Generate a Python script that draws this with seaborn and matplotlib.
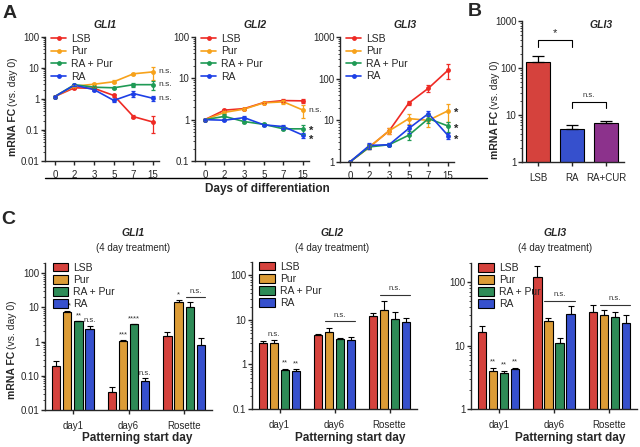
import numpy as np
import pandas as pd
import matplotlib
matplotlib.use('Agg')
import matplotlib.pyplot as plt
from matplotlib.lines import Line2D
import seaborn as sns

# ---- data ----
conditions = ['LSB', 'Pur', 'RA + Pur', 'RA']
colors = ['#ee2a24', '#f7a21b', '#1f9a55', '#1d3fe6']

days = ['0', '2', '3', '5', '7', '15']

# panel A: time course (mean, SEM), rows follow `conditions`
gli1_time_mean = [[1.2, 2.3, 2.2, 1.3, 0.27, 0.18],
                  [1.2, 2.6, 3.0, 3.6, 6.5, 7.5],
                  [1.2, 2.9, 2.4, 2.3, 2.9, 2.9],
                  [1.2, 2.8, 2.0, 0.9, 1.5, 1.05]]
gli1_time_sem = [[0.05, 0.2, 0.15, 0.1, 0.03, 0.1],
                 [0.05, 0.2, 0.3, 0.4, 0.5, 3.5],
                 [0.05, 0.2, 0.2, 0.15, 0.4, 1.0],
                 [0.05, 0.2, 0.15, 0.12, 0.3, 0.2]]
gli2_time_mean = [[1.0, 1.7, 1.85, 2.6, 2.9, 2.85],
                  [1.0, 1.5, 1.8, 2.55, 2.7, 1.7],
                  [1.0, 1.2, 0.9, 0.77, 0.6, 0.6],
                  [1.0, 0.97, 1.12, 0.75, 0.68, 0.42]]
gli2_time_sem = [[0.02, 0.1, 0.1, 0.1, 0.2, 0.3],
                 [0.02, 0.1, 0.1, 0.1, 0.3, 0.6],
                 [0.02, 0.15, 0.05, 0.05, 0.05, 0.15],
                 [0.02, 0.05, 0.08, 0.05, 0.08, 0.06]]
gli3_time_mean = [[1.0, 2.3, 5.6, 26, 59, 160],
                  [1.0, 2.3, 5.6, 11, 10, 17],
                  [1.0, 2.3, 2.6, 4.4, 11, 7.3],
                  [1.0, 2.5, 2.6, 6.4, 14.5, 4.3]]
gli3_time_sem = [[0.02, 0.3, 0.8, 2.5, 12, 60],
                 [0.02, 0.3, 0.8, 3, 3, 8],
                 [0.02, 0.3, 0.2, 1.0, 2.5, 2],
                 [0.02, 0.4, 0.2, 1.5, 2, 0.8]]
gli1_time_marks = [('n.s.', 7.5), ('n.s.', 2.9), ('n.s.', 1.05)]
gli2_time_marks = [('n.s.', 1.7), ('*', 0.64), ('*', 0.39)]
gli3_time_marks = [('*', 18), ('*', 7.2), ('*', 4.1)]

# panel B
b_conditions = ['LSB', 'RA', 'RA+CUR']
b_colors = ['#ee2a24', '#1d3fe6', '#9b239b']
b_mean = [135, 5.1, 6.7]
b_sem = [45, 1.1, 0.9]

# panel C: 4 day treatment, rows follow `conditions`, columns follow `start_days`
start_days = ['day1', 'day6', 'Rosette']
gli1_bar_mean = [[0.2, 0.034, 1.5], [7.2, 1.05, 14], [3.9, 3.2, 10.5], [2.3, 0.072, 0.82]]
gli1_bar_sem = [[0.07, 0.014, 0.4], [0.9, 0.1, 3], [0.2, 0.1, 3.5], [0.6, 0.013, 0.45]]
gli1_bar_sig = [[None, None, None], ['***', '***', '*'], ['**', '****', None], ['n.s.', 'n.s.', None]]
gli1_bar_lines = [('Rosette', 20, 'RA + Pur', 'RA')]

gli2_bar_mean = [[3.0, 4.6, 12.5], [3.0, 5.3, 17], [0.76, 3.8, 10.5], [0.72, 3.6, 9.0]]
gli2_bar_sem = [[0.4, 0.3, 2], [0.5, 1.2, 9], [0.05, 0.1, 4.5], [0.06, 0.6, 2]]
gli2_bar_sig = [[None, None, None], ['n.s.', None, None], ['**', None, None], ['**', None, None]]
gli2_bar_lines = [('day6', 9.5, 'Pur', 'RA'), ('Rosette', 37, 'Pur', 'RA')]

gli3_bar_mean = [[16.5, 120, 34], [3.9, 24, 30], [3.7, 11, 28], [4.3, 31, 23]]
gli3_bar_sem = [[4, 60, 9], [0.5, 3, 6], [0.3, 2, 6], [0.2, 11, 7]]
gli3_bar_sig = [[None, None, None], ['**', None, None], ['**', None, None], ['**', None, None]]
gli3_bar_lines = [('day6', 50, 'Pur', 'RA'), ('Rosette', 43, 'Pur', 'RA')]

W, H = 640, 447

sns.set_style('ticks')
plt.rcParams['font.family'] = ['Liberation Sans', 'DejaVu Sans']
plt.rcParams['axes.linewidth'] = 1.0
plt.rcParams['xtick.major.width'] = 1.0
plt.rcParams['ytick.major.width'] = 1.0
plt.rcParams['xtick.major.size'] = 3
plt.rcParams['ytick.major.size'] = 3
plt.rcParams['ytick.minor.size'] = 1.5
plt.rcParams['ytick.minor.width'] = 0.6
plt.rcParams['xtick.labelsize'] = 7
plt.rcParams['ytick.labelsize'] = 7

fig = plt.figure(figsize=(W / 100, H / 100), dpi=100)


def px(x, y):
    return x / W, 1 - y / H


def add_axes(l, t, r, b):
    return fig.add_axes([l / W, 1 - b / H, (r - l) / W, (b - t) / H])


def fc_label(x, y_split):
    fx, fy = px(x, y_split)
    fig.text(fx, fy, 'mRNA FC', rotation=90, fontweight='bold', fontsize=7.5,
             ha='center', va='top')
    fig.text(fx, fy + 0.004, '(vs. day 0)', rotation=90, fontsize=7.5,
             ha='center', va='bottom')


def log_axis(ax, ticks, labels, lims):
    ax.set_yscale('log')
    ax.set_ylim(*lims)
    ax.set_yticks(ticks)
    ax.set_yticklabels(labels)
    sns.despine(ax=ax)
    ax.tick_params(axis='y', pad=1)


def line_panel(ax, means, sems, marks, ticks, labels, lims):
    df = pd.DataFrame([(days[j], conditions[i], means[i][j])
                       for i in range(len(conditions)) for j in range(len(days))],
                      columns=['day', 'cond', 'fc'])
    sns.lineplot(data=df, x='day', y='fc', hue='cond', palette=colors, sort=False,
                 marker='o', markersize=3.5, markeredgewidth=0, linewidth=1.2,
                 errorbar=None, ax=ax)
    for i, c in enumerate(colors):
        ax.errorbar(days, means[i], yerr=sems[i], fmt='none', ecolor=c,
                    elinewidth=0.9, capsize=1.5, capthick=0.9)
    log_axis(ax, ticks, labels, lims)
    ax.set_xlim(-0.5, 5.3)
    ax.set_xlabel('')
    ax.set_ylabel('')
    for s, y in marks:
        if s == 'n.s.':
            ax.text(5.28, y, s, fontsize=6, va='center', ha='left', color='#333333',
                    clip_on=False)
        else:
            # asterisk glyph sits high in the line box, nudge it down a little
            ax.text(5.28, y * 0.85, s, fontsize=8, va='center', ha='left',
                    fontweight='bold', clip_on=False)
    sns.move_legend(ax, 'upper left', bbox_to_anchor=(0.02, 1.06), frameon=False,
                    title=None, fontsize=7.5, handlelength=1.4, labelspacing=0.25,
                    handletextpad=0.5, borderaxespad=0)


def bar_panel(ax, means, sems, sig, ns_lines, ticks, labels, lims):
    df = pd.DataFrame([(start_days[j], conditions[i], means[i][j])
                       for i in range(len(conditions)) for j in range(len(start_days))],
                      columns=['start', 'cond', 'fc'])
    sns.barplot(data=df, x='start', y='fc', hue='cond', palette=colors, width=0.8,
                gap=0.25, edgecolor='black', linewidth=0.8, errorbar=None, ax=ax)
    bars = list(ax.containers)
    for i, cont in enumerate(bars):
        xs = [b.get_x() + b.get_width() / 2 for b in cont]
        hs = [b.get_height() for b in cont]
        ax.errorbar(xs, hs, yerr=[np.zeros(len(hs)), sems[i]], fmt='none',
                    ecolor='black', elinewidth=0.8, capsize=2, capthick=0.8)
        for j, s in enumerate(sig[i]):
            if s:
                ax.text(xs[j], (hs[j] + sems[i][j]) * 1.1, s, ha='center',
                        va='bottom', fontsize=5.5, color='#333333')
    for day, y, first, last in ns_lines:
        j = start_days.index(day)
        b0 = bars[conditions.index(first)][j]
        b1 = bars[conditions.index(last)][j]
        x0, x1 = b0.get_x(), b1.get_x() + b1.get_width()
        ax.plot([x0, x1], [y, y], color='#333333', lw=0.8)
        ax.text((x0 + x1) / 2, y * 1.12, 'n.s.', ha='center', va='bottom',
                fontsize=5.5, color='#333333')
    log_axis(ax, ticks, labels, lims)
    ax.set_xlim(-0.5, 2.5)
    ax.set_xlabel('')
    ax.set_ylabel('')
    ax.tick_params(axis='x', pad=5)
    sns.move_legend(ax, 'upper left', bbox_to_anchor=(0.02, 1.03), frameon=False,
                    title=None, fontsize=7.5, handlelength=1.5, handleheight=0.9,
                    labelspacing=0.2, handletextpad=0.5, borderaxespad=0)


# ---- panel A ----
ax1 = add_axes(45, 37, 159, 161)
line_panel(ax1, gli1_time_mean, gli1_time_sem, gli1_time_marks,
           [0.01, 0.1, 1, 10, 100], ['0.01', '0.1', '1', '10', '100'], (0.01, 100))
ax2 = add_axes(195, 37, 309, 161)
line_panel(ax2, gli2_time_mean, gli2_time_sem, gli2_time_marks,
           [0.1, 1, 10, 100], ['0.1', '1', '10', '100'], (0.1, 100))
ax3 = add_axes(340, 37, 454, 162)
line_panel(ax3, gli3_time_mean, gli3_time_sem, gli3_time_marks,
           [1, 10, 100, 1000], ['1', '10', '100', '1000'], (1, 1000))

for x, t in [(105, 'GLI1'), (255, 'GLI2'), (405, 'GLI3')]:
    fig.text(*px(x, 25), t, fontsize=7.5, fontweight='bold', fontstyle='italic',
             ha='center', va='center')
fc_label(13, 108)
fig.add_artist(Line2D([45 / W, 487 / W], [1 - 178 / H, 1 - 178 / H], color='black', lw=1))
fig.text(*px(267, 189), 'Days of differentiation', fontsize=8.5, fontweight='bold',
         ha='center', va='center')

# ---- panel B ----
axb = add_axes(522, 21, 624, 162)
sns.barplot(x=b_conditions, y=b_mean, hue=b_conditions, palette=b_colors, width=0.68,
            edgecolor='black', linewidth=0.8, errorbar=None, legend=False, ax=axb)
bx = [b.get_x() + b.get_width() / 2 for c in axb.containers for b in c]
bh = [b.get_height() for c in axb.containers for b in c]
axb.errorbar(bx, bh, yerr=[np.zeros(len(bh)), b_sem], fmt='none', ecolor='black',
             elinewidth=0.9, capsize=4.5, capthick=0.9)
log_axis(axb, [1, 10, 100, 1000], ['1', '10', '100', '1000'], (1, 1000))
axb.set_xlim(-0.47, 2.53)
axb.tick_params(axis='x', pad=5)
axb.plot([bx[0], bx[0], bx[1], bx[1]], [280, 394, 394, 280], color='black', lw=0.8)
axb.text((bx[0] + bx[1]) / 2, 440, '*', ha='center', va='bottom', fontsize=8)
axb.plot([bx[1], bx[1], bx[2], bx[2]], [14, 19, 19, 14], color='black', lw=0.8)
axb.text((bx[1] + bx[2]) / 2, 22, 'n.s.', ha='center', va='bottom', fontsize=5.5,
         color='#333333')
axb.text(0.78, 0.97, 'GLI3', transform=axb.transAxes, fontsize=7.5, fontweight='bold',
         fontstyle='italic', ha='center', va='center')
fc_label(495, 111)

# ---- panel C ----
axc1 = add_axes(45, 263, 212, 410)
bar_panel(axc1, gli1_bar_mean, gli1_bar_sem, gli1_bar_sig, gli1_bar_lines,
          [0.01, 0.1, 1, 10, 100], ['0.01', '0.10', '1', '10', '100'], (0.01, 200))
axc2 = add_axes(252, 262, 417, 409)
bar_panel(axc2, gli2_bar_mean, gli2_bar_sem, gli2_bar_sig, gli2_bar_lines,
          [0.1, 1, 10, 100], ['0.1', '1', '10', '100'], (0.1, 200))
axc3 = add_axes(471, 263, 637, 409)
bar_panel(axc3, gli3_bar_mean, gli3_bar_sem, gli3_bar_sig, gli3_bar_lines,
          [1, 10, 100], ['1', '10', '100'], (1, 200))

for x, t in [(133, 'GLI1'), (332, 'GLI2'), (555, 'GLI3')]:
    fig.text(*px(x, 233), t, fontsize=7.5, fontweight='bold', fontstyle='italic',
             ha='center', va='center')
    fig.text(*px(x, 248), '(4 day treatment)', fontsize=7, ha='center', va='center')
for x in [137, 350, 570]:
    fig.text(*px(x, 438), 'Patterning start day', fontsize=8.5, fontweight='bold',
             ha='center', va='center')
fc_label(12, 351)

for x, y, t in [(10, 13, 'A'), (475, 12, 'B'), (8, 220, 'C')]:
    fig.text(*px(x, y), t, fontsize=14, fontweight='bold', ha='center', va='center')

fig.savefig('out.png', dpi=100)
